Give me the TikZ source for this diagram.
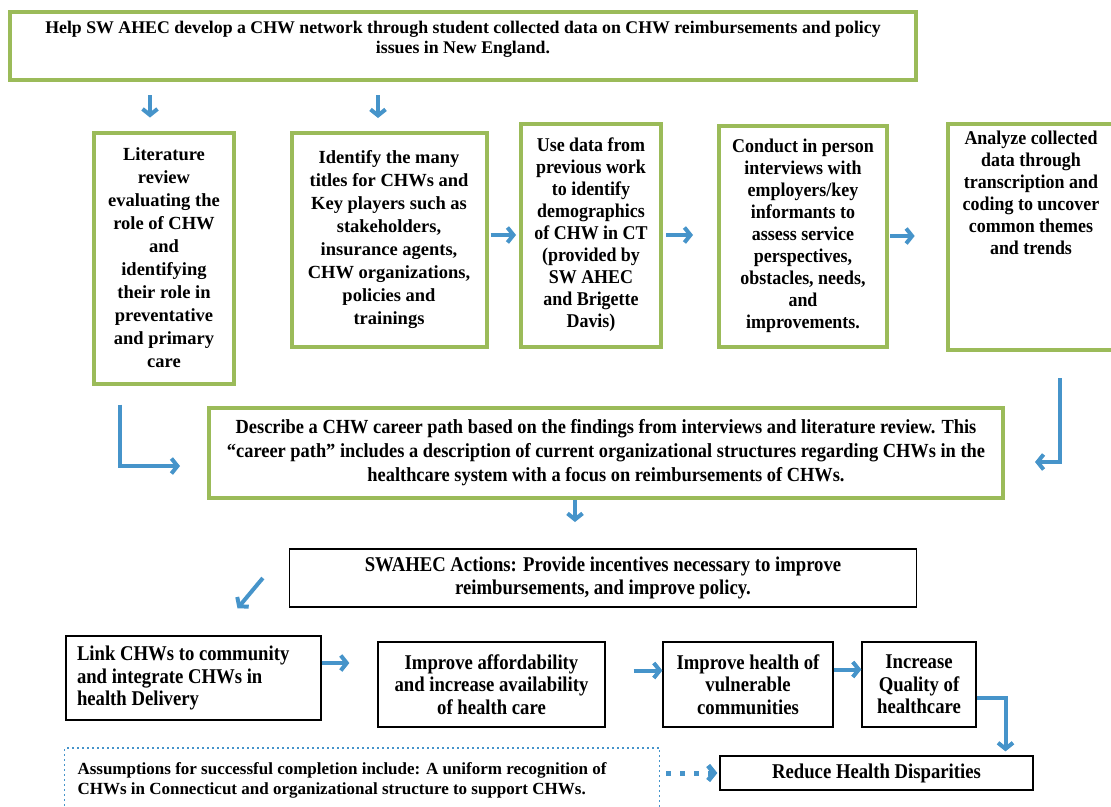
\documentclass[tikz,border=0pt]{standalone}
\usepackage{fontspec}
\setmainfont{Liberation Serif}
\newfontfamily\narrowfont[FakeStretch=0.92]{Liberation Serif}
\newfontfamily\lowfont[FakeStretch=0.89]{Liberation Serif}
\usetikzlibrary{arrows.meta,calc}

\definecolor{boxgreen}{RGB}{155,187,89}
\definecolor{flowblue}{RGB}{70,148,202}

\begin{document}
\begin{tikzpicture}[x=1pt,y=-1pt,
greenbox/.style={draw=boxgreen,line width=4pt,fill=white,align=center,
  font=\bfseries\fontsize{18.5}{23}\selectfont},
narrowgreen/.style={greenbox,font=\narrowfont\bfseries\fontsize{19.5}{22}\selectfont},
blackbox/.style={draw=black,line width=1.3pt,fill=white,align=center,
  font=\lowfont\bfseries\fontsize{21}{22.5}\selectfont},
dotbox/.style={draw=flowblue,line width=1.5pt,dash pattern=on 2pt off 3pt,
  font=\bfseries\fontsize{17}{20}\selectfont},
flow/.style={draw=flowblue,line width=4pt,-{Straight Barb[length=6pt,width=15pt]}},
dotflow/.style={draw=flowblue,line width=5pt,dash pattern=on 5pt off 9pt,
  -{Straight Barb[length=6pt,width=15pt]}}]
\clip (0,0) rectangle (1111,806);
\fill[white] (0,0) rectangle (1111,806);

% goal
\node[greenbox,minimum width=906pt,minimum height=68pt] (goal) at (463,46)
  {\parbox[c][58pt][t]{890pt}{\centering\fontsize{17.8}{20}\selectfont
   \vspace*{4pt}Help SW AHEC develop a CHW network through student collected data on CHW reimbursements and policy\\
   issues in New England.}};

% first row of steps
\node[greenbox,minimum width=140pt,minimum height=251pt] (lit) at (164,258)
  {Literature\\review\\evaluating the\\role of CHW\\and\\identifying\\their role in\\preventative\\and primary\\care};
\node[greenbox,minimum width=195pt,minimum height=214pt] (titles) at (389,240)
  {Identify the many\\titles for CHWs and\\Key players such as\\stakeholders,\\insurance agents,\\CHW organizations,\\policies and\\trainings};
\node[narrowgreen,minimum width=140pt,minimum height=223pt] (demo) at (591,235)
  {Use data from\\previous work\\to identify\\demographics\\of CHW in CT\\(provided by\\SW AHEC\\and Brigette\\Davis)};
\node[narrowgreen,minimum width=168pt,minimum height=221pt] (interv) at (803,236)
  {Conduct in person\\interviews with\\employers/key\\informants to\\assess service\\perspectives,\\obstacles, needs,\\and\\improvements.};
\node[narrowgreen,minimum width=166pt,minimum height=226pt] (analyze) at (1031,237)
  {\parbox[c][212pt][t]{160pt}{\centering
   Analyze collected\\data through\\transcription and\\coding to uncover\\common themes\\and trends}};

% career path
\node[greenbox,minimum width=794pt,minimum height=90pt,
  font=\narrowfont\bfseries\fontsize{20}{24}\selectfont] (career) at (606,453)
  {Describe a CHW career path based on the findings from interviews and literature review. This\\
   “career path” includes a description of current organizational structures regarding CHWs in the\\
   healthcare system with a focus on reimbursements of CHWs.};

\node[blackbox,minimum width=627pt,minimum height=58pt] (actions) at (603,578)
  {SWAHEC Actions: Provide incentives necessary to improve\\reimbursements, and improve policy.};

% outcomes
\node[blackbox,minimum width=255pt,minimum height=84pt,text width=233pt,align=flush left] (link) at (193.5,678)
  {Link CHWs to community\\and integrate CHWs in\\health Delivery};
\node[blackbox,minimum width=227pt,minimum height=85pt] (afford) at (491.5,684.5)
  {Improve affordability\\and increase availability\\of health care};
\node[blackbox,minimum width=170pt,minimum height=85pt] (health) at (748,684.5)
  {Improve health of\\vulnerable\\communities};
\node[blackbox,minimum width=114pt,minimum height=85pt] (quality) at (919,684.5)
  {Increase\\Quality of\\healthcare};
\node[blackbox,minimum width=313pt,minimum height=34pt] (reduce) at (876.5,773)
  {Reduce Health Disparities};
\node[dotbox,minimum width=595pt,minimum height=64pt,text width=569pt,align=flush left] (assume) at (362,780)
  {Assumptions for successful completion include: A uniform recognition of\\
   CHWs in Connecticut and organizational structure to support CHWs.};

% arrows
\draw[flow] ($(goal.south -| lit)+(-14,13)$) -- ($(lit.north)+(-14,-13)$);
\draw[flow] ($(goal.south -| titles)+(-11,13)$) -- ($(titles.north)+(-11,-13)$);
\draw[flow,shorten <=2pt,shorten >=3pt] (titles.east |- demo) -- (demo.west);
\draw[flow,shorten <=3pt,shorten >=24pt] (demo.east) -- (demo.east -| interv.west);
\draw[flow,shorten <=1pt,shorten >=31pt] (interv.east) -- (interv.east -| analyze.west);
\draw[flow] ($(lit.south west)+(28,19)$) |- ($(career.west)+(-27,13)$);
\draw[flow] ($(analyze.south)+(29,26)$) |- ($(career.east)+(30,9)$);
\draw[flow] ($(career.south)+(-31,0)$) -- ($(career.south)+(-31,22)$);
\draw[flow] ($(actions.west)+(-26,0)$) -- ($(link.north)+(44,-27)$);
\draw[flow,shorten >=28pt] ($(link.east)+(0,-15)$) -- ($(link.east -| afford.west)+(0,-15)$);
\draw[flow,shorten <=28pt] ($(afford.east)+(0,-14)$) -- ($(afford.east -| health.west)+(0,-14)$);
\draw[flow] ($(health.east)+(0,-15)$) -- ($(health.east -| quality.west)+(0,-15)$);
\draw[flow] ($(quality.east)+(0,13)$) -| ($(reduce.north)+(129,-4)$);
\draw[dotflow,shorten <=6pt,shorten >=2pt] (assume.east |- reduce.west) -- (reduce.west);
\end{tikzpicture}
\end{document}
